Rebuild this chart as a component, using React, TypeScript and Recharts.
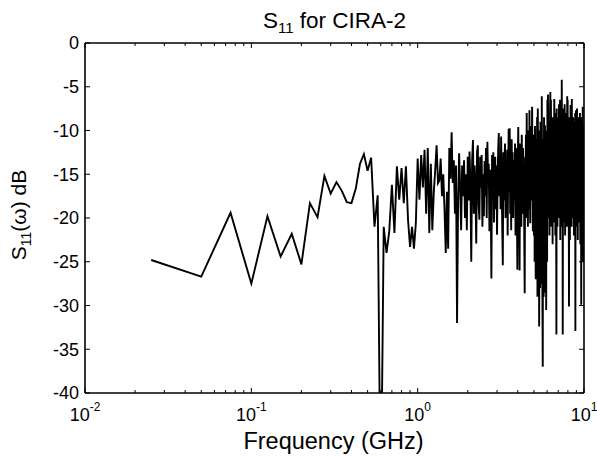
import React from 'react';
import { LineChart, Line, XAxis, YAxis } from 'recharts';

// S11 magnitude (dB), sampled every 0.025 GHz starting at 0.025 GHz (k = 1..400)
const s11Db: number[] = [
  // k 1-20
  -24.8, -26.7, -19.4, -27.5, -19.8, -24.4, -21.8, -25.3, -18.3, -19.9, -15.2, -17.2, -15.9, -16.9, -18.2, -18.3, -16.6, -13.8, -12.7, -14.6,
  // k 21-40
  -13.1, -21.0, -17.4, -55.0, -21.0, -24.0, -21.5, -16.2, -21.7, -14.1, -17.9, -14.3, -18.3, -14.1, -20.2, -23.3, -21.0, -23.5, -20.6, -13.2,
  // k 41-60
  -17.9, -12.8, -16.5, -12.2, -19.5, -12.0, -21.7, -13.8, -21.4, -17.1, -14.5, -11.7, -16.0, -15.7, -13.2, -17.5, -15.0, -19.0, -24.0, -17.0,
  // k 61-80
  -23.5, -12.0, -15.5, -10.2, -16.0, -13.4, -19.5, -14.0, -32.0, -18.0, -12.6, -16.5, -21.4, -14.0, -17.5, -13.4, -20.0, -15.0, -21.4, -13.0,
  // k 81-100
  -18.0, -12.4, -16.0, -25.0, -13.5, -11.1, -19.5, -14.0, -17.0, -22.9, -12.5, -11.7, -18.5, -20.2, -13.0, -16.5, -12.8, -21.0, -15.0, -19.8,
  // k 101-120
  -13.5, -17.5, -12.0, -20.0, -11.3, -16.0, -13.8, -21.5, -14.5, -18.0, -26.9, -12.8, -17.0, -12.5, -20.5, -15.0, -13.0, -19.0, -14.0, -21.9,
  // k 121-140
  -15.5, -12.0, -10.3, -17.5, -13.5, -19.0, -10.7, -16.0, -21.0, -25.4, -12.5, -18.0, -14.0, -11.5, -20.0, -15.0, -18.7, -12.2, -22.0, -14.5,
  // k 141-160
  -9.8, -17.0, -9.75, -19.5, -13.0, -21.4, -11.0, -16.5, -12.5, -20.0, -14.0, -13.4, -18.0, -11.5, -22.0, -15.5, -12.0, -19.0, -25.9, -13.5,
  // k 161-180
  -9.6, -16.0, -20.0, -26.0, -11.5, -17.5, -13.0, -21.0, -10.5, -15.0, -19.5, -12.0, -18.0, -14.5, -22.5, -28.6, -13.0, -16.5, -10.5, -20.0,
  // k 181-200
  -8.0, -18.5, -12.5, -21.0, -14.0, -10.0, -19.0, -7.7, -16.0, -20.6, -11.5, -15.5, -9.5, -18.0, -7.3, -13.5, -21.5, -10.5, -17.0, -22.0,
  // k 201-220
  -12.0, -25.0, -9.5, -19.0, -27.0, -11.0, -16.0, -24.0, -8.5, -29.0, -7.5, -14.0, -26.0, -10.0, -32.4, -18.0, -12.5, -28.0, -9.0, -21.0,
  // k 221-240
  -15.0, -27.5, -6.1, -19.0, -30.0, -37.0, -11.0, -24.0, -29.0, -8.5, -17.0, -26.0, -9.4, -22.0, -28.5, -13.0, -30.5, -10.0, -18.0, -25.0,
  // k 241-260
  -6.5, -14.0, -5.9, -20.0, -11.0, -17.5, -9.0, -22.0, -13.0, -8.0, -5.6, -19.0, -6.5, -15.0, -21.0, -10.5, -16.5, -8.5, -23.0, -12.0,
  // k 261-280
  -18.0, -9.0, -14.5, -20.5, -6.4, -11.0, -17.0, -8.0, -22.0, -13.5, -9.5, -19.0, -33.3, -7.5, -15.0, -10.0, -21.0, -12.0, -8.5, -18.5,
  // k 281-300
  -11.0, -16.0, -7.0, -20.0, -9.5, -14.0, -6.5, -22.5, -12.0, -17.5, -8.0, -10.5, -19.0, -4.2, -13.0, -21.0, -9.0, -33.3, -15.0, -7.5,
  // k 301-320
  -18.0, -11.5, -8.5, -20.5, -13.0, -7.0, -16.0, -22.0, -10.0, -14.5, -8.0, -19.5, -12.0, -17.0, -9.5, -21.0, -6.1, -13.5, -6.5, -18.0,
  // k 321-340
  -11.0, -15.5, -8.5, -20.0, -30.1, -12.5, -9.0, -17.0, -22.5, -10.5, -14.0, -7.1, -19.0, -11.5, -16.0, -8.0, -21.0, -6.4, -13.0, -18.5,
  // k 341-360
  -9.5, -15.0, -20.0, -8.5, -12.5, -17.5, -10.0, -22.0, -14.0, -9.0, -18.0, -11.5, -16.5, -8.0, -32.9, -13.0, -19.5, -7.7, -15.0, -10.5,
  // k 361-380
  -21.0, -12.0, -7.5, -17.0, -9.5, -14.5, -22.5, -10.5, -16.0, -8.5, -19.0, -12.5, -15.5, -9.0, -20.5, -11.0, -17.5, -8.0, -13.5, -23.0,
  // k 381-400
  -10.0, -15.0, -8.5, -19.0, -29.9, -12.0, -16.5, -9.0, -21.0, -13.5, -10.5, -18.0, -7.3, -14.5, -25.0, -11.0, -17.0, -9.5, -15.5, -12.0,
];

const FREQ_STEP_GHZ = 0.025;

const xMajorTicks = [0.01, 0.1, 1, 10];
const xMinorTicks = [
  0.02, 0.03, 0.04, 0.05, 0.06, 0.07, 0.08, 0.09,
  0.2, 0.3, 0.4, 0.5, 0.6, 0.7, 0.8, 0.9,
  2, 3, 4, 5, 6, 7, 8, 9,
];
const yTicks = [-40, -35, -30, -25, -20, -15, -10, -5, 0];

const titleMain = 'S';
const titleSub = '11';
const titleRest = ' for CIRA-2';
const xLabel = 'Frequency (GHz)';
const yLabelMain = 'S';
const yLabelSub = '11';
const yLabelRest = '(\u03c9) dB';

const data = s11Db.map((v, i) => ({ f: +((i + 1) * FREQ_STEP_GHZ).toFixed(4), s: v }));
const allXTicks = [...xMajorTicks, ...xMinorTicks].sort((a, b) => a - b);

const FONT = '"Liberation Sans", Arial, Helvetica, sans-serif';
const W = 597;
const H = 458;
const PL = 85;
const PR = 584;
const PT = 43;
const PB = 393;

const isDecade = (v: number) => {
  const l = Math.log10(v);
  return Math.abs(l - Math.round(l)) < 1e-6;
};

const XBottomTick = (props: any) => {
  const { x, y, payload } = props;
  const v = payload.value as number;
  const major = isDecade(v);
  const exp = Math.round(Math.log10(v));
  return (
    <g>
      <line x1={x} y1={y} x2={x} y2={y - (major ? 5 : 3)} stroke="#000" strokeWidth={1} />
      {major && (
        <text x={x} y={y + 28} textAnchor="middle" fontFamily={FONT} fontSize={18} fill="#000">
          <tspan>10</tspan>
          <tspan dy={-10} fontSize={12}>{String(exp)}</tspan>
        </text>
      )}
    </g>
  );
};

const XTopTick = (props: any) => {
  const { x, y, payload } = props;
  const v = payload.value as number;
  const major = isDecade(v);
  return <line x1={x} y1={y} x2={x} y2={y + (major ? 5 : 3)} stroke="#000" strokeWidth={1} />;
};

const YLeftTick = (props: any) => {
  const { x, y, payload } = props;
  return (
    <g>
      <line x1={x} y1={y} x2={x + 5} y2={y} stroke="#000" strokeWidth={1} />
      <text x={x - 6} y={y} dy="0.36em" textAnchor="end" fontFamily={FONT} fontSize={18} fill="#000">
        {String(payload.value)}
      </text>
    </g>
  );
};

const YRightTick = (props: any) => {
  const { x, y } = props;
  return <line x1={x} y1={y} x2={x - 5} y2={y} stroke="#000" strokeWidth={1} />;
};

export default function App() {
  return (
    <div style={{ position: 'absolute', left: 0, top: 0, width: W, height: H, background: '#fff' }}>
      <LineChart
        width={W}
        height={H}
        data={data}
        margin={{ top: PT - 5, right: W - PR - 5, bottom: H - PB - 50, left: PL - 60 }}
      >
        <XAxis
          xAxisId="b"
          dataKey="f"
          type="number"
          scale="log"
          domain={[0.01, 10]}
          allowDataOverflow
          ticks={allXTicks}
          interval={0}
          height={50}
          tickSize={0}
          tickMargin={0}
          tick={<XBottomTick />}
          axisLine={{ stroke: '#000', strokeWidth: 1.6 }}
          tickLine={false}
        />
        <XAxis
          xAxisId="t"
          orientation="top"
          dataKey="f"
          type="number"
          scale="log"
          domain={[0.01, 10]}
          allowDataOverflow
          ticks={allXTicks}
          interval={0}
          height={5}
          tickSize={0}
          tickMargin={0}
          tick={<XTopTick />}
          axisLine={{ stroke: '#000', strokeWidth: 1.6 }}
          tickLine={false}
        />
        <YAxis
          yAxisId="l"
          type="number"
          domain={[-40, 0]}
          allowDataOverflow
          ticks={yTicks}
          interval={0}
          width={60}
          tickSize={0}
          tickMargin={0}
          tick={<YLeftTick />}
          axisLine={{ stroke: '#000', strokeWidth: 1.6 }}
          tickLine={false}
        />
        <YAxis
          yAxisId="r"
          orientation="right"
          type="number"
          domain={[-40, 0]}
          allowDataOverflow
          ticks={yTicks}
          interval={0}
          width={5}
          tickSize={0}
          tickMargin={0}
          tick={<YRightTick />}
          axisLine={{ stroke: '#000', strokeWidth: 1.6 }}
          tickLine={false}
        />
        <Line
          xAxisId="b"
          yAxisId="l"
          type="linear"
          dataKey="s"
          stroke="#000"
          strokeWidth={1.9}
          dot={false}
          activeDot={false}
          isAnimationActive={false}
        />
      </LineChart>
      <svg
        width={W}
        height={H}
        style={{ position: 'absolute', left: 0, top: 0, pointerEvents: 'none' }}
      >
        <text x={(PL + PR) / 2} y={28} textAnchor="middle" fontFamily={FONT} fontSize={22.5} fill="#000">
          <tspan>{titleMain}</tspan>
          <tspan dy={5} fontSize={15}>{titleSub}</tspan>
          <tspan dy={-5}>{titleRest}</tspan>
        </text>
        <text x={(PL + PR) / 2 - 1} y={449} textAnchor="middle" fontFamily={FONT} fontSize={23.5} fill="#000">
          {xLabel}
        </text>
        <text
          transform={`translate(26, 215) rotate(-90)`}
          textAnchor="middle"
          fontFamily={FONT}
          fontSize={21}
          fill="#000"
        >
          <tspan>{yLabelMain}</tspan>
          <tspan dy={5} fontSize={14}>{yLabelSub}</tspan>
          <tspan dy={-5}>{yLabelRest}</tspan>
        </text>
      </svg>
    </div>
  );
}
